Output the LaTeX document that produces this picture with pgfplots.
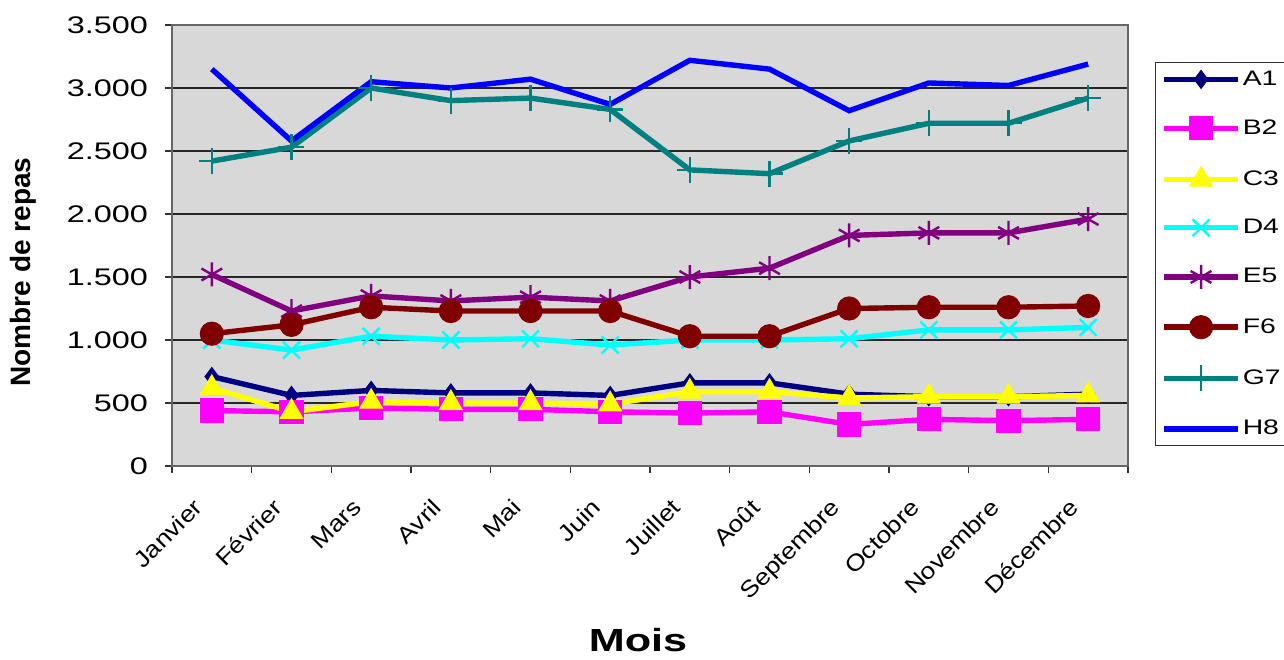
\documentclass[border=0pt]{standalone}
\usepackage{fontspec}
\setmainfont{Liberation Sans}
\newfontfamily\widefont{Liberation Sans}[FakeStretch=1.35]
\newfontfamily\midfont{Liberation Sans}[FakeStretch=1.15]
\usepackage{pgfplots}
\usepackage{pgfplotstable}
\pgfplotsset{compat=1.18}

\definecolor{cA}{RGB}{0,0,128}
\definecolor{cB}{RGB}{255,0,255}
\definecolor{cC}{RGB}{255,255,0}
\definecolor{cD}{RGB}{0,255,255}
\definecolor{cE}{RGB}{128,0,128}
\definecolor{cF}{RGB}{128,0,0}
\definecolor{cG}{RGB}{0,128,128}
\definecolor{cH}{RGB}{0,0,255}
\definecolor{bggray}{RGB}{216,216,216}

% monthly number of meals per site
\pgfplotstableread{
m    A1   B2   C3   D4    E5    F6    G7    H8
0    710  440  620  1000  1520  1050  2420  3150
1    560  430  430  920   1230  1120  2530  2580
2    600  460  510  1030  1350  1260  3000  3050
3    580  450  500  1000  1310  1230  2900  3000
4    580  450  500  1010  1340  1230  2920  3070
5    560  430  490  960   1310  1230  2830  2870
6    660  420  590  1000  1500  1030  2350  3220
7    660  430  590  1000  1570  1030  2320  3150
8    570  330  540  1010  1830  1250  2580  2820
9    550  370  550  1080  1850  1260  2720  3040
10   550  360  550  1080  1850  1260  2720  3020
11   570  370  560  1100  1960  1270  2920  3190
}\repas

\begin{document}
\begin{tikzpicture}
\begin{axis}[
  scale only axis,
  width=478pt, height=220.5pt,
  xmin=-0.5, xmax=11.5, ymin=0, ymax=3500,
  xtick={-0.5,0.5,...,11.5},
  xticklabels={Janvier,Février,Mars,Avril,Mai,Juin,Juillet,Août,Septembre,Octobre,Novembre,Décembre,{}},
  ytick={0,500,...,3500},
  /pgf/number format/.cd, 1000 sep={.}, assume math mode=true, /pgfplots/.cd,
  tick align=outside, tick pos=left,
  major tick length=3.5pt,
  tick style={black!80, line width=0.6pt},
  ymajorgrids,
  major grid style={black!85, line width=0.7pt},
  axis background/.style={fill=bggray},
  axis line style={draw=black!60, line width=0.7pt},
  yticklabel style={font=\widefont\fontsize{12}{14}\selectfont, xshift=-5pt},
  xticklabel style={font=\midfont\fontsize{11.5}{13}\selectfont, xshift=10pt, yshift=-12pt, rotate=45, anchor=north east, inner sep=0pt},
  xlabel={Mois},
  xlabel style={font=\widefont\bfseries\fontsize{16}{19}\selectfont, at={(rel axis cs:0.4875,0)}, anchor=center, yshift=-87pt},
  ylabel={Nombre de repas},
  ylabel style={font=\bfseries\fontsize{14}{17}\selectfont, at={(rel axis cs:0,0.44)}, anchor=center, yshift=74.5pt},
  every axis plot/.append style={line width=2.7pt},
  legend style={at={(1.028,0.916)}, anchor=north west, draw=black!80, line width=0.6pt,
    font=\widefont\fontsize{10.5}{12}\selectfont, row sep=13.3pt, inner sep=3pt,
    nodes={inner sep=1pt}},
  legend cell align=left,
  legend image code/.code={%
    \draw[mark repeat=2, mark phase=2] plot coordinates {(0pt,0pt) (18.5pt,0pt) (37pt,0pt)};},
]
\addplot[cA, mark=diamond*, mark size=4.5pt, mark options={solid, line width=0.5pt}] table[x=m, y=A1]{\repas};
\addlegendentry{A1}
\addplot[cB, mark=square*, mark size=5.8pt, mark options={solid, line width=0.5pt}] table[x=m, y=B2]{\repas};
\addlegendentry{B2}
\addplot[cC, mark=triangle*, mark size=6.5pt, mark options={solid, line width=0.5pt}] table[x=m, y=C3]{\repas};
\addlegendentry{C3}
\addplot[cD, mark=x, mark size=6pt, mark options={solid, line width=1.2pt}] table[x=m, y=D4]{\repas};
\addlegendentry{D4}
\addplot[cE, mark=asterisk, mark size=6pt, mark options={solid, line width=1.2pt}] table[x=m, y=E5]{\repas};
\addlegendentry{E5}
\addplot[cF, mark=*, mark size=5.8pt, mark options={solid, line width=0.5pt}] table[x=m, y=F6]{\repas};
\addlegendentry{F6}
\addplot[cG, mark=+, mark size=6.5pt, mark options={solid, line width=1.2pt}] table[x=m, y=G7]{\repas};
\addlegendentry{G7}
\addplot[cH, no marks] table[x=m, y=H8]{\repas};
\addlegendentry{H8}
\end{axis}
\pgfresetboundingbox
\useasboundingbox (-86pt,-96.5pt) rectangle (556pt,233pt);
\end{tikzpicture}
\end{document}
